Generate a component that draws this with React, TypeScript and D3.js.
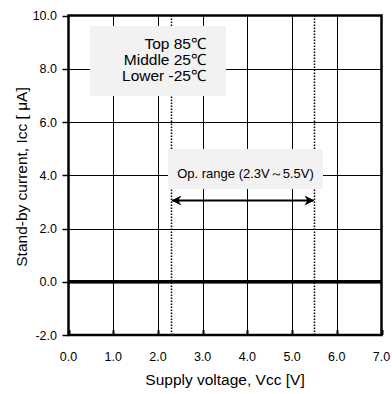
import React, { useRef, useEffect } from 'react';
import * as d3 from 'd3';

const xTicks = [0, 1, 2, 3, 4, 5, 6, 7];
const yTicks = [-2, 0, 2, 4, 6, 8, 10];
const voltages = [0, 1, 2, 2.3, 3, 4, 5, 5.5, 6, 7];
const iccTop = [0, 0, 0, 0, 0, 0, 0, 0, 0, 0];
const iccMiddle = [0, 0, 0, 0, 0, 0, 0, 0, 0, 0];
const iccLower = [0, 0, 0, 0, 0, 0, 0, 0, 0, 0];
const opRange = [2.3, 5.5];
const legendLines = ['Top 85℃', 'Middle 25℃', 'Lower -25℃'];

const App: React.FC = () => {
  const ref = useRef<SVGSVGElement>(null);

  useEffect(() => {
    const svg = d3.select(ref.current);
    svg.selectAll('*').remove();

    const x = d3.scaleLinear().domain([0, 7]).range([68.5, 381.5]);
    const y = d3.scaleLinear().domain([-2, 10]).range([335, 15.5]);
    const font = 'Arial, "Liberation Sans", sans-serif';

    const defs = svg.append('defs');
    defs
      .append('marker')
      .attr('id', 'arrowhead')
      .attr('viewBox', '0 0 10 10')
      .attr('refX', 9)
      .attr('refY', 5)
      .attr('markerWidth', 11)
      .attr('markerHeight', 10)
      .attr('markerUnits', 'userSpaceOnUse')
      .attr('orient', 'auto-start-reverse')
      .append('path')
      .attr('d', 'M0,0 L10,5 L0,10 L3,5 Z')
      .attr('fill', '#000');

    // grid
    svg
      .append('g')
      .selectAll('line')
      .data(xTicks.slice(1, -1))
      .enter()
      .append('line')
      .attr('x1', (d) => Math.round(x(d)) + 0.5)
      .attr('x2', (d) => Math.round(x(d)) + 0.5)
      .attr('y1', y(10))
      .attr('y2', y(-2))
      .attr('stroke', '#000')
      .attr('stroke-width', 1);

    svg
      .append('g')
      .selectAll('line')
      .data(yTicks.slice(1, -1))
      .enter()
      .append('line')
      .attr('x1', x(0))
      .attr('x2', x(7))
      .attr('y1', (d) => Math.round(y(d)) + 0.5)
      .attr('y2', (d) => Math.round(y(d)) + 0.5)
      .attr('stroke', '#000')
      .attr('stroke-width', 1);

    // y ticks outward
    svg
      .append('g')
      .selectAll('line')
      .data(yTicks)
      .enter()
      .append('line')
      .attr('x1', x(0) - 6)
      .attr('x2', x(0))
      .attr('y1', (d) => Math.round(y(d)) + 0.5)
      .attr('y2', (d) => Math.round(y(d)) + 0.5)
      .attr('stroke', '#000')
      .attr('stroke-width', 1.5);

    // x ticks inward at bottom
    svg
      .append('g')
      .selectAll('line')
      .data(xTicks)
      .enter()
      .append('line')
      .attr('x1', (d) => Math.round(x(d)) + 0.5)
      .attr('x2', (d) => Math.round(x(d)) + 0.5)
      .attr('y1', y(-2) - 5)
      .attr('y2', y(-2))
      .attr('stroke', '#000')
      .attr('stroke-width', 2);

    // dotted op-range limits (boxes are drawn over them)
    svg
      .append('g')
      .selectAll('line')
      .data(opRange)
      .enter()
      .append('line')
      .attr('x1', (d) => Math.floor(x(d)) + 0.5)
      .attr('x2', (d) => Math.floor(x(d)) + 0.5)
      .attr('y1', y(10))
      .attr('y2', y(-2))
      .attr('stroke', '#000')
      .attr('stroke-width', 1.5)
      .attr('stroke-dasharray', '1.5,1.5');

    // legend box
    const lg = svg.append('g');
    lg.append('rect')
      .attr('x', 90)
      .attr('y', 26)
      .attr('width', 136)
      .attr('height', 70)
      .attr('fill', '#f2f2f2');
    lg.selectAll('text')
      .data(legendLines)
      .enter()
      .append('text')
      .attr('x', 206)
      .attr('y', (_d, i) => 49 + i * 16)
      .attr('text-anchor', 'end')
      .attr('font-family', font)
      .attr('font-size', 15.5)
      .text((d) => d);

    // op range box
    svg
      .append('rect')
      .attr('x', 168)
      .attr('y', 149)
      .attr('width', 155)
      .attr('height', 40)
      .attr('fill', '#f2f2f2');
    svg
      .append('text')
      .attr('x', 245.5)
      .attr('y', 178)
      .attr('text-anchor', 'middle')
      .attr('font-family', font)
      .attr('font-size', 13)
      .text('Op. range (2.3V～5.5V)');

    // arrow
    svg
      .append('line')
      .attr('x1', x(opRange[0]) + 1)
      .attr('x2', x(opRange[1]) - 1)
      .attr('y1', 200.5)
      .attr('y2', 200.5)
      .attr('stroke', '#000')
      .attr('stroke-width', 2)
      .attr('marker-start', 'url(#arrowhead)')
      .attr('marker-end', 'url(#arrowhead)');

    // series
    const line = d3
      .line<number>()
      .x((_d, i) => x(voltages[i]))
      .y((d) => y(d));
    [iccLower, iccMiddle, iccTop].forEach((s) => {
      svg
        .append('path')
        .attr('d', line(s) as string)
        .attr('fill', 'none')
        .attr('stroke', '#000')
        .attr('stroke-width', 3);
    });

    // frame
    svg
      .append('rect')
      .attr('x', x(0))
      .attr('y', y(10))
      .attr('width', x(7) - x(0))
      .attr('height', y(-2) - y(10))
      .attr('fill', 'none')
      .attr('stroke', '#000')
      .attr('stroke-width', 2.5);

    // tick labels
    svg
      .append('g')
      .selectAll('text')
      .data(yTicks)
      .enter()
      .append('text')
      .attr('x', 57)
      .attr('y', (d) => y(d) + 4.5)
      .attr('text-anchor', 'end')
      .attr('font-family', font)
      .attr('font-size', 12.5)
      .text((d) => d.toFixed(1));

    svg
      .append('g')
      .selectAll('text')
      .data(xTicks)
      .enter()
      .append('text')
      .attr('x', (d) => x(d))
      .attr('y', 361)
      .attr('text-anchor', 'middle')
      .attr('font-family', font)
      .attr('font-size', 12.5)
      .text((d) => d.toFixed(1));

    // axis titles
    svg
      .append('text')
      .attr('x', 225)
      .attr('y', 385)
      .attr('text-anchor', 'middle')
      .attr('font-family', font)
      .attr('font-size', 15.5)
      .text('Supply voltage, Vcc [V]');

    svg
      .append('text')
      .attr('transform', 'translate(27,177) rotate(-90)')
      .attr('text-anchor', 'middle')
      .attr('font-family', font)
      .attr('font-size', 15.5)
      .text('Stand-by current, Icc [ μA]');
  }, []);

  return (
    <svg
      ref={ref}
      width={392}
      height={394}
      style={{ position: 'absolute', left: 0, top: 0, background: '#fff' }}
    />
  );
};

export default App;
